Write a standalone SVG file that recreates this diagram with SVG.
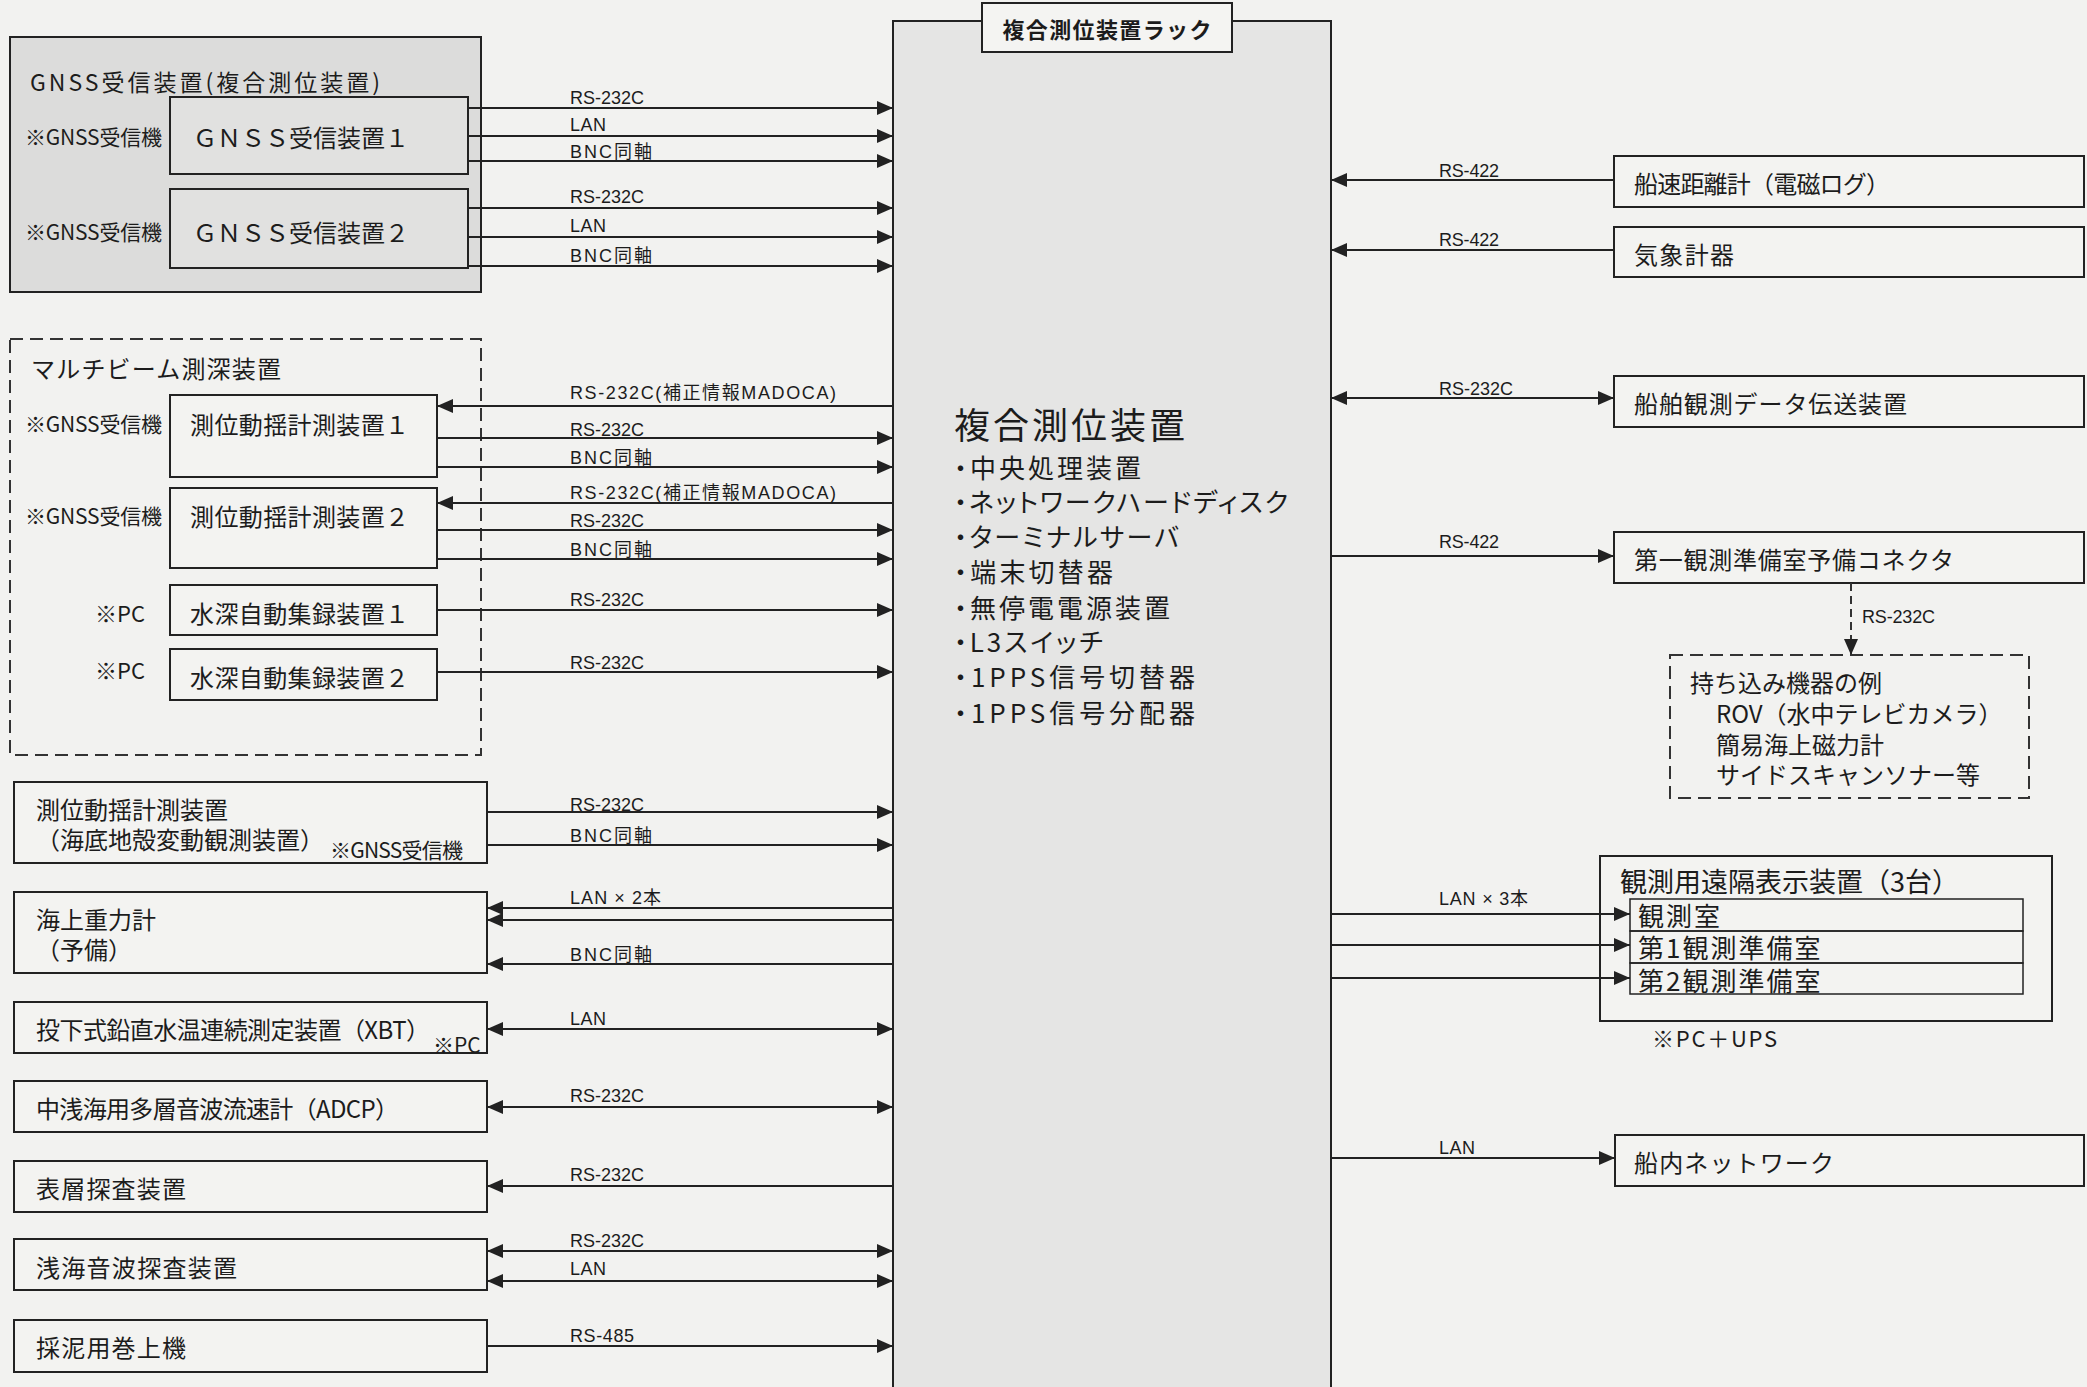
<svg xmlns="http://www.w3.org/2000/svg" width="2087" height="1387" viewBox="0 0 2087 1387">
<defs>
<style>
text { dominant-baseline: central; fill: #1c1c1c; }
.jp { font-family: "Noto Sans CJK JP", "Noto Sans CJK SC", sans-serif; font-size: 24px; }
.bul { font-family: "Noto Sans CJK JP", sans-serif; font-size: 26px; font-feature-settings: "palt"; }
.note { font-family: "Noto Sans CJK JP", sans-serif; font-size: 21px; }
.lbl { font-family: "Liberation Sans", "Noto Sans CJK JP", sans-serif; font-size: 18px; }
.row { font-size: 26px; letter-spacing: 2px; }
.box { fill: #f3f3f1; stroke: #222; stroke-width: 2; }
.gbox { fill: #dcdcdb; stroke: #222; stroke-width: 2; }
.ibox { fill: #e1e1e0; stroke: #222; stroke-width: 2; }
.dash { fill: none; stroke: #333; stroke-width: 2; stroke-dasharray: 13 7; }
.conn { fill: none; stroke: #222; stroke-width: 2; }
.dconn { fill: none; stroke: #333; stroke-width: 2; stroke-dasharray: 8 5; }
</style>
<marker id="ah" viewBox="0 0 16 14" refX="16" refY="7" markerWidth="16" markerHeight="14" markerUnits="userSpaceOnUse" orient="auto-start-reverse">
<path d="M0,0 L16,7 L0,14 z" fill="#222"/>
</marker>
</defs>
<rect x="0" y="0" width="2087" height="1387" fill="#f2f2f0"/>

<!-- Rack -->
<g id="rack">
<rect x="893" y="21" width="438" height="1400" fill="#e5e5e4" stroke="#222" stroke-width="2"/>
<rect x="982" y="3" width="250" height="49" fill="#f4f4f2" stroke="#222" stroke-width="2"/>
<text class="jp" x="1107" y="28" text-anchor="middle" style="font-size:22px;font-weight:bold" textLength="209">複合測位装置ラック</text>
<text class="jp" x="954" y="423" style="font-size:36px" textLength="231">複合測位装置</text>
<text class="bul" x="954" y="466" textLength="187">・中央処理装置</text>
<text class="bul" x="954" y="500" textLength="334">・ネットワークハードディスク</text>
<text class="bul" x="954" y="535" textLength="225">・ターミナルサーバ</text>
<text class="bul" x="954" y="570" textLength="159">・端末切替器</text>
<text class="bul" x="954" y="606" textLength="216">・無停電電源装置</text>
<text class="bul" x="954" y="640" textLength="149">・L3スイッチ</text>
<text class="bul" x="954" y="675" textLength="241">・1PPS信号切替器</text>
<text class="bul" x="954" y="711" textLength="241">・1PPS信号分配器</text>
</g>

<!-- GNSS group -->
<g id="gnss-group">
<rect class="gbox" x="10" y="37" width="471" height="255"/>
<text class="jp" x="30" y="81" style="font-size:23px" textLength="350">GNSS受信装置(複合測位装置)</text>
</g>
<g id="gnss1">
<rect class="ibox" x="170" y="97" width="298" height="77"/>
<text class="note" x="25" y="136" textLength="137">※GNSS受信機</text>
<text class="jp" x="193" y="136" textLength="216">ＧＮＳＳ受信装置１</text>
</g>
<g id="gnss2">
<rect class="ibox" x="170" y="189" width="298" height="79"/>
<text class="note" x="25" y="231" textLength="137">※GNSS受信機</text>
<text class="jp" x="193" y="231" textLength="216">ＧＮＳＳ受信装置２</text>
</g>

<!-- Multibeam group -->
<g id="multibeam-group">
<rect class="dash" x="10" y="339" width="471" height="416"/>
<text class="jp" x="31" y="367" textLength="250">マルチビーム測深装置</text>
</g>
<g id="mb-motion1">
<rect class="box" x="170" y="395" width="267" height="82"/>
<text class="note" x="25" y="423" textLength="137">※GNSS受信機</text>
<text class="jp" x="190" y="423" textLength="219">測位動揺計測装置１</text>
</g>
<g id="mb-motion2">
<rect class="box" x="170" y="488" width="267" height="80"/>
<text class="note" x="25" y="515" textLength="137">※GNSS受信機</text>
<text class="jp" x="190" y="515" textLength="219">測位動揺計測装置２</text>
</g>
<g id="mb-depth1">
<rect class="box" x="170" y="585" width="267" height="50"/>
<text class="note" x="95" y="612" style="font-size:22px">※PC</text>
<text class="jp" x="190" y="612" textLength="219">水深自動集録装置１</text>
</g>
<g id="mb-depth2">
<rect class="box" x="170" y="649" width="267" height="51"/>
<text class="note" x="95" y="669" style="font-size:22px">※PC</text>
<text class="jp" x="190" y="676" textLength="219">水深自動集録装置２</text>
</g>

<!-- Left devices -->
<g id="seafloor">
<rect class="box" x="14" y="782" width="473" height="81"/>
<text class="jp"><tspan x="36" y="808">測位動揺計測装置</tspan><tspan x="36" y="838">（海底地殻変動観測装置）</tspan></text>
<text class="note" x="330" y="849" textLength="133">※GNSS受信機</text>
</g>
<g id="gravity">
<rect class="box" x="14" y="892" width="473" height="81"/>
<text class="jp"><tspan x="36" y="918">海上重力計</tspan><tspan x="36" y="948">（予備）</tspan></text>
</g>
<g id="xbt">
<rect class="box" x="14" y="1002" width="473" height="51"/>
<text class="jp" x="36" y="1028" textLength="394">投下式鉛直水温連続測定装置（XBT）</text>
<text class="note" x="433" y="1044">※PC</text>
</g>
<g id="adcp">
<rect class="box" x="14" y="1081" width="473" height="51"/>
<text class="jp" x="36" y="1107" textLength="363">中浅海用多層音波流速計（ADCP）</text>
</g>
<g id="surface">
<rect class="box" x="14" y="1161" width="473" height="51"/>
<text class="jp" x="36" y="1187" textLength="150">表層探査装置</text>
</g>
<g id="shallow">
<rect class="box" x="14" y="1239" width="473" height="51"/>
<text class="jp" x="36" y="1266" textLength="201">浅海音波探査装置</text>
</g>
<g id="winch">
<rect class="box" x="14" y="1320" width="473" height="52"/>
<text class="jp" x="36" y="1346" textLength="150">採泥用巻上機</text>
</g>

<!-- Right devices -->
<g id="speedlog">
<rect class="box" x="1614" y="156" width="470" height="51"/>
<text class="jp" x="1634" y="182" textLength="256">船速距離計（電磁ログ）</text>
</g>
<g id="weather">
<rect class="box" x="1614" y="227" width="470" height="50"/>
<text class="jp" x="1634" y="253" textLength="100">気象計器</text>
</g>
<g id="datatx">
<rect class="box" x="1614" y="376" width="470" height="51"/>
<text class="jp" x="1634" y="402" textLength="273">船舶観測データ伝送装置</text>
</g>
<g id="connector">
<rect class="box" x="1614" y="532" width="470" height="51"/>
<text class="jp" x="1634" y="558" textLength="320">第一観測準備室予備コネクタ</text>
</g>
<g id="carryin">
<rect class="dash" x="1670" y="655" width="359" height="143"/>
<text class="jp"><tspan x="1690" y="681">持ち込み機器の例</tspan><tspan x="1716" y="712">ROV（水中テレビカメラ）</tspan><tspan x="1716" y="743">簡易海上磁力計</tspan><tspan x="1716" y="773">サイドスキャンソナー等</tspan></text>
</g>
<g id="remote">
<rect class="box" x="1600" y="856" width="452" height="165"/>
<rect x="1630" y="899" width="393" height="32" fill="none" stroke="#222" stroke-width="1.5"/>
<rect x="1630" y="931" width="393" height="32" fill="none" stroke="#222" stroke-width="1.5"/>
<rect x="1630" y="963" width="393" height="31" fill="none" stroke="#222" stroke-width="1.5"/>
<text class="jp"><tspan x="1620" y="880" style="font-size:27px">観測用遠隔表示装置（3台）</tspan><tspan class="row" x="1638" y="914">観測室</tspan><tspan class="row" x="1638" y="946">第1観測準備室</tspan><tspan class="row" x="1638" y="979">第2観測準備室</tspan></text>
<text class="note" x="1652" y="1037" style="font-size:22px" textLength="125">※PC＋UPS</text>
</g>
<g id="shipnet">
<rect class="box" x="1615" y="1135" width="469" height="51"/>
<text class="jp" x="1634" y="1161" textLength="200">船内ネットワーク</text>
</g>

<!-- Connectors -->
<g id="connectors">
<path class="conn" d="M468,108 H893" marker-end="url(#ah)"/>
<path class="conn" d="M468,136 H893" marker-end="url(#ah)"/>
<path class="conn" d="M468,161 H893" marker-end="url(#ah)"/>
<path class="conn" d="M468,208 H893" marker-end="url(#ah)"/>
<path class="conn" d="M468,237 H893" marker-end="url(#ah)"/>
<path class="conn" d="M468,266 H893" marker-end="url(#ah)"/>

<path class="conn" d="M893,406 H437" marker-end="url(#ah)"/>
<path class="conn" d="M437,438 H893" marker-end="url(#ah)"/>
<path class="conn" d="M437,467 H893" marker-end="url(#ah)"/>
<path class="conn" d="M893,503 H437" marker-end="url(#ah)"/>
<path class="conn" d="M437,530 H893" marker-end="url(#ah)"/>
<path class="conn" d="M437,559 H893" marker-end="url(#ah)"/>
<path class="conn" d="M437,610 H893" marker-end="url(#ah)"/>
<path class="conn" d="M437,672 H893" marker-end="url(#ah)"/>

<path class="conn" d="M487,812 H893" marker-end="url(#ah)"/>
<path class="conn" d="M487,845 H893" marker-end="url(#ah)"/>
<path class="conn" d="M893,908 H487" marker-end="url(#ah)"/>
<path class="conn" d="M893,920 H487" marker-end="url(#ah)"/>
<path class="conn" d="M893,964 H487" marker-end="url(#ah)"/>
<path class="conn" d="M487,1029 H893" marker-start="url(#ah)" marker-end="url(#ah)"/>
<path class="conn" d="M487,1107 H893" marker-start="url(#ah)" marker-end="url(#ah)"/>
<path class="conn" d="M893,1186 H487" marker-end="url(#ah)"/>
<path class="conn" d="M487,1251 H893" marker-start="url(#ah)" marker-end="url(#ah)"/>
<path class="conn" d="M487,1281 H893" marker-start="url(#ah)" marker-end="url(#ah)"/>
<path class="conn" d="M487,1346 H893" marker-end="url(#ah)"/>

<path class="conn" d="M1614,180 H1331" marker-end="url(#ah)"/>
<path class="conn" d="M1614,250 H1331" marker-end="url(#ah)"/>
<path class="conn" d="M1331,398 H1614" marker-start="url(#ah)" marker-end="url(#ah)"/>
<path class="conn" d="M1331,556 H1614" marker-end="url(#ah)"/>
<path class="dconn" d="M1851,583 V655" marker-end="url(#ah)"/>
<path class="conn" d="M1331,914 H1630" marker-end="url(#ah)"/>
<path class="conn" d="M1331,945 H1630" marker-end="url(#ah)"/>
<path class="conn" d="M1331,978 H1630" marker-end="url(#ah)"/>
<path class="conn" d="M1331,1158 H1615" marker-end="url(#ah)"/>

<text class="lbl" x="570" y="98" textLength="74">RS-232C</text>
<text class="lbl" x="570" y="125" textLength="36">LAN</text>
<text class="lbl" x="570" y="152" textLength="82">BNC同軸</text>
<text class="lbl" x="570" y="197" textLength="74">RS-232C</text>
<text class="lbl" x="570" y="226" textLength="36">LAN</text>
<text class="lbl" x="570" y="256" textLength="82">BNC同軸</text>

<text class="lbl" x="570" y="393" textLength="266">RS-232C(補正情報MADOCA)</text>
<text class="lbl" x="570" y="430" textLength="74">RS-232C</text>
<text class="lbl" x="570" y="458" textLength="82">BNC同軸</text>
<text class="lbl" x="570" y="493" textLength="266">RS-232C(補正情報MADOCA)</text>
<text class="lbl" x="570" y="521" textLength="74">RS-232C</text>
<text class="lbl" x="570" y="550" textLength="82">BNC同軸</text>
<text class="lbl" x="570" y="600" textLength="74">RS-232C</text>
<text class="lbl" x="570" y="663" textLength="74">RS-232C</text>

<text class="lbl" x="570" y="805" textLength="74">RS-232C</text>
<text class="lbl" x="570" y="836" textLength="82">BNC同軸</text>
<text class="lbl" x="570" y="898" textLength="91">LAN × 2本</text>
<text class="lbl" x="570" y="955" textLength="82">BNC同軸</text>
<text class="lbl" x="570" y="1019" textLength="36">LAN</text>
<text class="lbl" x="570" y="1096" textLength="74">RS-232C</text>
<text class="lbl" x="570" y="1175" textLength="74">RS-232C</text>
<text class="lbl" x="570" y="1241" textLength="74">RS-232C</text>
<text class="lbl" x="570" y="1269" textLength="36">LAN</text>
<text class="lbl" x="570" y="1336" textLength="64">RS-485</text>

<text class="lbl" x="1439" y="171" textLength="60">RS-422</text>
<text class="lbl" x="1439" y="240" textLength="60">RS-422</text>
<text class="lbl" x="1439" y="389" textLength="74">RS-232C</text>
<text class="lbl" x="1439" y="542" textLength="60">RS-422</text>
<text class="lbl" x="1862" y="617" textLength="73">RS-232C</text>
<text class="lbl" x="1439" y="899" textLength="89">LAN × 3本</text>
<text class="lbl" x="1439" y="1148" textLength="36">LAN</text>
</g>
</svg>
